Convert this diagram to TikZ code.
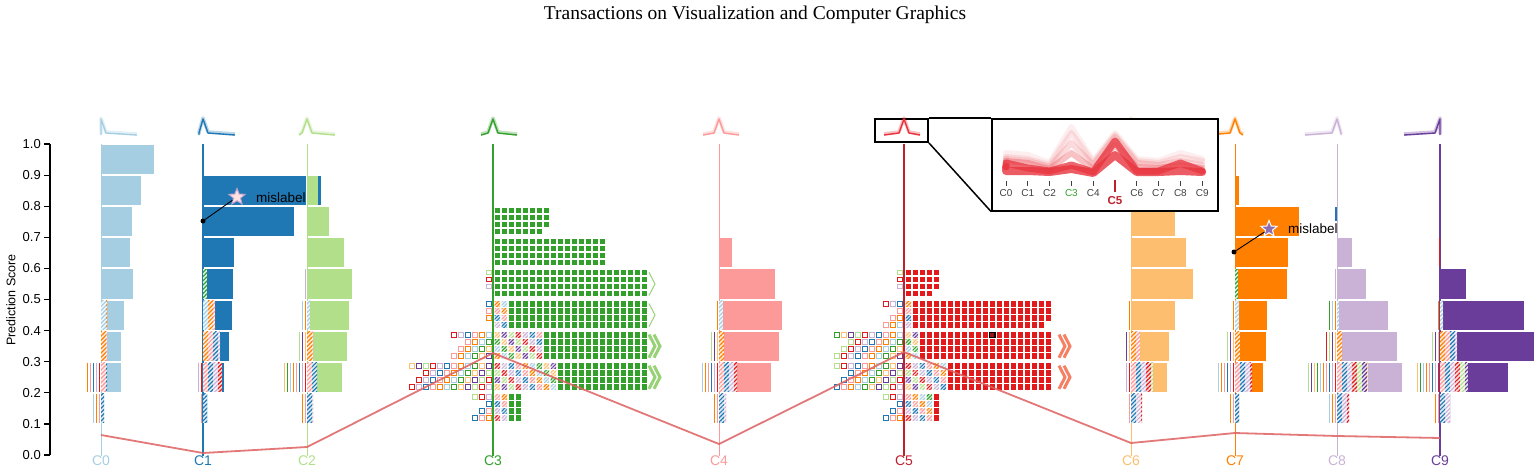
\documentclass[tikz,border=0pt]{standalone}
\usepackage{fontspec}
\setmainfont{Liberation Serif}
\setsansfont{Liberation Sans}
\usetikzlibrary{shapes.geometric,patterns.meta}

\definecolor{pc0}{RGB}{166,206,227}
\definecolor{pc1}{RGB}{31,120,180}
\definecolor{pc2}{RGB}{178,223,138}
\definecolor{pc3}{RGB}{51,160,44}
\definecolor{pc4}{RGB}{251,154,153}
\definecolor{pc5}{RGB}{227,26,28}
\definecolor{pc6}{RGB}{253,191,111}
\definecolor{pc7}{RGB}{255,127,0}
\definecolor{pc8}{RGB}{202,178,214}
\definecolor{pc9}{RGB}{106,61,154}
\definecolor{lc5}{RGB}{190,32,45}
\definecolor{trail}{RGB}{222,96,96}
\definecolor{zoomred}{RGB}{232,52,62}
\definecolor{chevred}{RGB}{246,128,100}

\newcommand{\binrow}[6]{%
  \pgfmathsetmacro\yt{455-31.1*(#2+1)+1}%
  \pgfmathsetmacro\yb{455-31.1*#2-1}%
  \fill[#6] ({#1+#4},\yt) rectangle (#5,\yb);%
  \pgfmathtruncatemacro\nl{ceil(#3/3)}%
  \ifnum\nl>0
    \foreach \j in {1,...,\nl}{%
      \pgfmathtruncatemacro\m{mod(\j*3+#2,10)}%
      \draw[pc\m, line width=1.4] ({#1-3*\j+1.5},\yt) -- ({#1-3*\j+1.5},\yb);}%
  \fi
  \pgfmathtruncatemacro\nh{ceil(#4/5)}%
  \ifnum\nh>0
    \foreach \j in {1,...,\nh}{%
      \pgfmathtruncatemacro\m{mod(\j*7+#2*3+1,10)}%
      \fill[pc\m!15] ({#1+5*(\j-1)},\yt) rectangle ({min(#1+5*\j,#1+#4)},\yb);%
      \fill[pattern={Lines[angle=45,distance=3pt,line width=1.2pt]}, pattern color=pc\m]
        ({#1+5*(\j-1)},\yt) rectangle ({min(#1+5*\j,#1+#4)},\yb);}%
  \fi}

\newcommand{\unitrow}[7]{%
  \foreach \rw in {0,...,3}{%
    \pgfmathsetmacro\yt{455-31.1*(#2+1)+1.5+7*\rw}%
    \pgfmathtruncatemacro\nr{#4+#5-(\rw==3 ? #6 : 0)}%
    \ifnum\nr>0
      \foreach \q in {1,...,\nr}{%
        \pgfmathsetmacro\xl{#1+1.5+7*(\q-1)}%
        \ifnum\q>#4
          \fill[#7] (\xl,\yt) rectangle ++(5.5,5.5);%
        \else
          \pgfmathtruncatemacro\m{mod(\q*3+\rw*7+#2,10)}%
          \fill[pc\m!20] (\xl,\yt) rectangle ++(5.5,5.5);%
          \fill[pattern={Lines[angle=45,distance=2.5pt,line width=1pt]}, pattern color=pc\m]
            (\xl,\yt) rectangle ++(5.5,5.5);%
        \fi}%
    \fi
    \pgfmathtruncatemacro\nl{#3>2 ? #3-mod(\rw*5+#2*3,3) : (\rw==3 ? 0 : #3)}%
    \ifnum\nl>0
      \foreach \q in {1,...,\nl}{%
        \pgfmathtruncatemacro\m{mod(\q*7+\rw*3+#2,10)}%
        \draw[pc\m, line width=0.9] ({#1-6.5-7*(\q-1)},{\yt+0.5}) rectangle ++(4.5,4.5);}%
    \fi}}

\newcommand{\chev}[5]{%
  \pgfmathsetmacro\yt{455-31.1*(#2+1)+4}%
  \pgfmathsetmacro\yb{455-31.1*#2-4}%
  \foreach \i in {1,...,#3}{%
    \draw[#4, line width=#5, line join=miter]
      ({#1+5*(\i-1)},\yt) -- ({#1+5*(\i-1)+6},{(\yt+\yb)/2}) -- ({#1+5*(\i-1)},\yb);}}

\newcommand{\spark}[3]{%
  \draw[#3, line width=3.5, opacity=.3, line join=round]
    ({#1-4*#2},134) -- ({max(#1-4*#2,#1-5)},132) -- (#1,118) -- ({min(#1+5,#1+4*(9-#2))},132) -- ({#1+4*(9-#2)},134);
  \draw[#3, line width=1.4, line join=round]
    ({#1-4*#2},135) -- ({max(#1-4*#2,#1-5)},133) -- (#1,119) -- ({min(#1+5,#1+4*(9-#2))},133) -- ({#1+4*(9-#2)},135);}

\newcommand{\profile}[3]{%
  \draw[zoomred, opacity=#2, line width=#3, line cap=round, line join=round] (1006,{173-6})
    \foreach \v [count=\j from 0] in {#1} { -- ({1006+21.8*\j},{173-\v}) };}

\begin{document}
\begin{tikzpicture}[x=1pt,y=-1pt]
\tikzstyle{every node}=[font=\sffamily, inner sep=0pt]
\tikzstyle{axis}=[black, line width=1.2]
\tikzstyle{score}=[anchor=east, font=\sffamily\fontsize{13}{13}\selectfont]
\tikzstyle{classlabel}=[anchor=north, font=\sffamily\fontsize{14}{14}\selectfont]
\tikzstyle{edge}=[trail, line width=1.8, line join=round, opacity=.85]
\tikzstyle{lens}=[draw=black, line width=2, fill=white]
\tikzstyle{tag}=[anchor=west, font=\sffamily\fontsize{13.5}{14}\selectfont]
\tikzstyle{dotmark}=[circle, fill=black, minimum size=5]
\tikzstyle{starmark}=[star, star points=5, star point ratio=2.3, minimum size=17, line width=1]

\useasboundingbox (0,0) rectangle (1536,471);

\node[anchor=base, font=\rmfamily\fontsize{19.5}{20}\selectfont] (title) at (755,19) {Transactions on Visualization and Computer Graphics};

\draw[axis] (50,144) -- (50,455);
\foreach \k/\t in {0/0.0,1/0.1,2/0.2,3/0.3,4/0.4,5/0.5,6/0.6,7/0.7,8/0.8,9/0.9,10/1.0} {
  \draw[axis] (44,{455-31.1*\k}) -- (50,{455-31.1*\k});
  \node[score] (s\k) at (41,{455-31.1*\k}) {\t};
}
\node[rotate=90, font=\sffamily\fontsize{12.5}{13}\selectfont] (ylab) at (11,300) {Prediction Score};

\foreach \i/\x/\lc/\w in {0/101/pc0/1,1/203/pc1/1.6,2/307/pc2/1,3/493/pc3/1.6,4/719/pc4/1,5/904/lc5/1.4,6/1131/pc6/1,7/1235/pc7/1,8/1337/pc8/1,9/1440/pc9/1.6} {
  \coordinate (top\i) at (\x,144);
  \node[classlabel, text=\lc] (lab\i) at (\x,456) {C\i};
  \draw[\lc, line width=\w] (top\i) -- (lab\i.north);
}

\foreach \i/\x in {0/101,1/203,2/307,3/493,4/719,6/1131,7/1235,8/1337,9/1440} {
  \spark{\x}{\i}{pc\i}
}

\binrow{101}{9}{0}{0}{154}{pc0}
\binrow{101}{8}{0}{0}{141}{pc0}
\binrow{101}{7}{0}{0}{132}{pc0}
\binrow{101}{6}{0}{0}{130}{pc0}
\binrow{101}{5}{0}{0}{133}{pc0}
\binrow{101}{4}{0}{6}{124}{pc0}
\binrow{101}{3}{0}{6}{121}{pc0}
\binrow{101}{2}{13}{6}{121}{pc0}
\binrow{101}{1}{7}{3}{104}{pc0}

\binrow{203}{8}{0}{0}{306}{pc1}
\binrow{203}{7}{0}{0}{294}{pc1}
\binrow{203}{6}{0}{0}{234}{pc1}
\binrow{203}{5}{0}{4}{233}{pc1}
\binrow{203}{4}{0}{12}{232}{pc1}
\binrow{203}{3}{0}{17}{229}{pc1}
\binrow{203}{2}{6}{19}{224}{pc1}
\binrow{203}{1}{3}{4}{207}{pc1}

\binrow{307}{8}{0}{0}{318}{pc2}
\fill[pc1] (318,{455-31.1*9+1}) rectangle (321,{455-31.1*8-1});
\binrow{307}{7}{0}{0}{329}{pc2}
\binrow{307}{6}{0}{0}{344}{pc2}
\binrow{307}{5}{2}{0}{352}{pc2}
\binrow{307}{4}{5}{3}{349}{pc2}
\binrow{307}{3}{9}{6}{347}{pc2}
\binrow{307}{2}{22}{10}{342}{pc2}
\binrow{307}{1}{4}{6}{313}{pc2}

\unitrow{493}{7}{0}{0}{8}{1}{pc3}
\unitrow{493}{6}{0}{0}{16}{0}{pc3}
\unitrow{493}{5}{1}{0}{22}{0}{pc3}
\unitrow{493}{4}{1}{2}{20}{0}{pc3}
\unitrow{493}{3}{6}{7}{15}{0}{pc3}
\unitrow{493}{2}{12}{9}{13}{0}{pc3}
\unitrow{493}{1}{3}{2}{2}{0}{pc3}
\chev{649}{5}{1}{pc2!80!pc3}{1}
\chev{649}{4}{1}{pc2!80!pc3}{1}
\chev{649}{3}{2}{pc2!80!pc3}{3}
\chev{649}{2}{2}{pc2!80!pc3}{3}

\binrow{719}{6}{0}{0}{732}{pc4}
\binrow{719}{5}{0}{0}{775}{pc4}
\binrow{719}{4}{2}{4}{782}{pc4}
\binrow{719}{3}{9}{5}{779}{pc4}
\binrow{719}{2}{16}{18}{771}{pc4}
\binrow{719}{1}{5}{7}{726}{pc4}

\unitrow{904}{5}{1}{0}{5}{1}{pc5}
\unitrow{904}{4}{3}{1}{20}{1}{pc5}
\unitrow{904}{3}{10}{2}{19}{0}{pc5}
\unitrow{904}{2}{10}{6}{15}{0}{pc5}
\unitrow{904}{1}{3}{4}{1}{0}{pc5}
\draw[black, line width=1.2, fill=pc5!70!black] (989.5,332.1) rectangle ++(5.5,5.5);
\chev{1059}{3}{2}{chevred}{3}
\chev{1059}{2}{2}{chevred}{3}

\binrow{1131}{7}{0}{0}{1175}{pc6}
\binrow{1131}{6}{0}{0}{1186}{pc6}
\binrow{1131}{5}{0}{0}{1193}{pc6}
\binrow{1131}{4}{2}{0}{1175}{pc6}
\binrow{1131}{3}{4}{9}{1169}{pc6}
\binrow{1131}{2}{6}{22}{1167}{pc6}
\binrow{1131}{1}{3}{11}{1142}{pc6}

\binrow{1235}{8}{0}{0}{1239}{pc7}
\binrow{1235}{7}{0}{0}{1299}{pc7}
\binrow{1235}{6}{0}{0}{1288}{pc7}
\binrow{1235}{5}{0}{3}{1287}{pc7}
\binrow{1235}{4}{3}{4}{1267}{pc7}
\binrow{1235}{3}{9}{5}{1266}{pc7}
\binrow{1235}{2}{17}{17}{1263}{pc7}
\binrow{1235}{1}{5}{4}{1239}{pc7}

\fill[pc1] (1335,207) rectangle (1337,221);
\binrow{1337}{6}{0}{0}{1352}{pc8}
\binrow{1337}{5}{2}{0}{1366}{pc8}
\binrow{1337}{4}{7}{2}{1388}{pc8}
\binrow{1337}{3}{10}{5}{1397}{pc8}
\binrow{1337}{2}{28}{31}{1402}{pc8}
\binrow{1337}{1}{9}{12}{1349}{pc8}

\fill[pc5] (1438.5,238) rectangle (1440,266);
\binrow{1440}{5}{0}{0}{1466}{pc9}
\binrow{1440}{4}{3}{3}{1524}{pc9}
\binrow{1440}{3}{7}{17}{1534}{pc9}
\binrow{1440}{2}{23}{28}{1508}{pc9}
\binrow{1440}{1}{5}{10}{1450}{pc9}

\node[lens, minimum width=53, minimum height=23] (sparkbox) at (901.5,130.5) {};
\spark{904}{5}{zoomred}
\node[lens, minimum width=226, minimum height=91.5] (zoombox) at (1105,164.75) {};
\draw[black, line width=1.5] (sparkbox.north east) -- (zoombox.north west);
\draw[black, line width=1.5] (sparkbox.south east) -- (zoombox.south west);

\profile{20,18,10,46,12,40,14,12,20,14}{.08}{6}
\profile{16,14,8,40,10,38,12,10,16,12}{.12}{6}
\profile{14,12,6,30,8,36,10,8,12,8}{.18}{6}
\profile{12,10,4,20,4,28,6,5,8,5}{.3}{6}
\profile{10,5,2,8,1,32,2,2,10,2}{.75}{7}
\profile{2,2,1,4,0,18,1,1,2,1}{.8}{8}
\foreach \j/\lc in {0/black!75,1/black!75,2/black!75,3/pc3,4/black!75,6/black!75,7/black!75,8/black!75,9/black!75} {
  \draw[black!75, line width=0.8] ({1006+21.8*\j},181) -- ({1006+21.8*\j},186);
  \node[font=\sffamily\fontsize{10}{10}\selectfont, text=\lc] (z\j) at ({1006+21.8*\j},193) {C\j};
}
\draw[lc5, line width=1.6] (1115,180) -- (1115,192);
\node[font=\sffamily\bfseries\fontsize{11.5}{12}\selectfont, text=lc5] (z5) at (1115,201) {C5};

\coordinate (p0) at (101,435);
\coordinate (p1) at (203,453);
\coordinate (p2) at (307,447);
\coordinate (p3) at (493,353);
\coordinate (p4) at (719,444);
\coordinate (p5) at (904,352);
\coordinate (p6) at (1131,443);
\coordinate (p7) at (1235,433);
\coordinate (p8) at (1337,436);
\coordinate (p9) at (1440,438);
\draw[edge] (p0) -- (p1) -- (p2) -- (p3) -- (p4) -- (p5) -- (p6) -- (p7) -- (p8) -- (p9);

\node[dotmark] (dot1) at (203,221) {};
\node[starmark, draw=pc8!90!pc9, fill=pc4!30] (star1) at (237,197) {};
\draw[black, line width=0.9] (dot1) -- (star1);
\node[tag] (mis1) at (256,198) {mislabel};

\node[dotmark] (dot7) at (1234,252) {};
\node[starmark, draw=white, fill=pc9!75] (star7) at (1269,229) {};
\draw[black, line width=0.9] (dot7) -- (star7);
\node[tag] (mis7) at (1288,229) {mislabel};
\end{tikzpicture}
\end{document}
